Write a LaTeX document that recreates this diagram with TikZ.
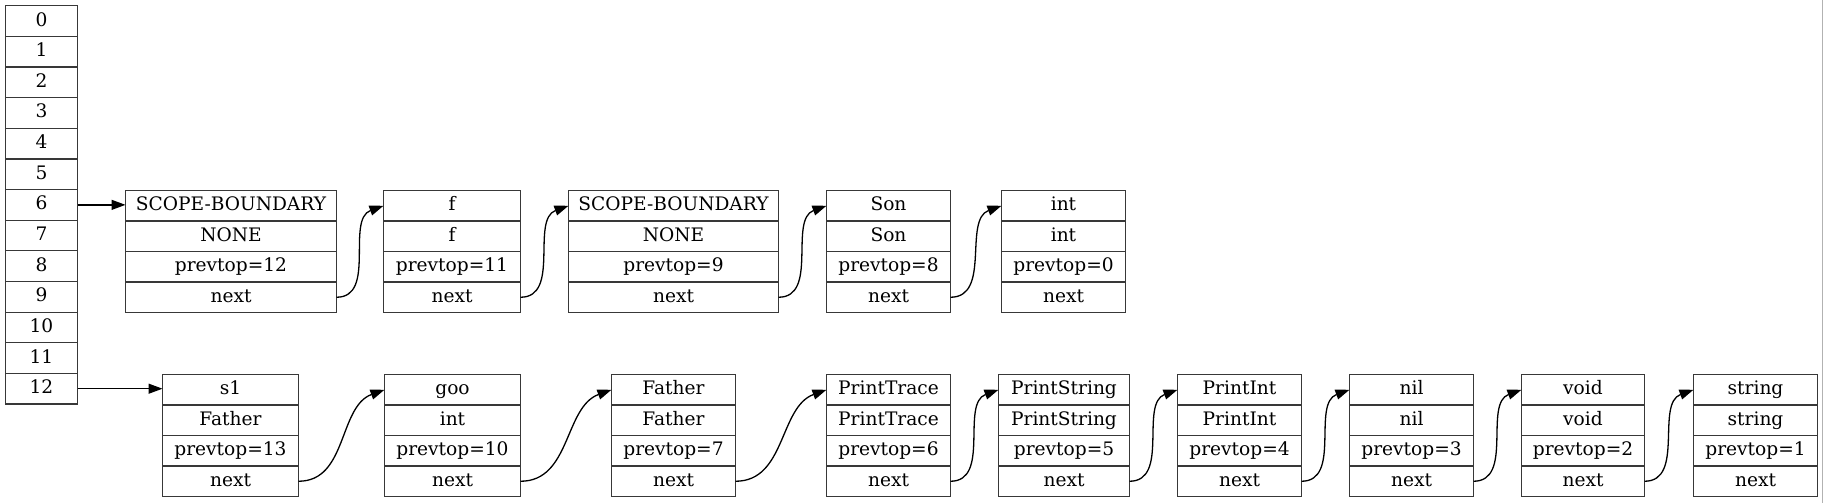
\documentclass[tikz,border=0pt]{standalone}
\usepackage{fontspec}
\setmainfont{DejaVu Serif}
\usetikzlibrary{arrows.meta}
\tikzset{
  fld/.style={draw=black!78, line width=1.2pt, inner sep=0pt, outer sep=0pt, minimum height=30.5pt,
    text height=14pt, text depth=4pt, font=\fontsize{18.6}{22}\selectfont},
  arr/.style={draw=black, line width=1.3pt, -{Triangle[length=14pt,width=10pt]}},
}
\newcommand\myrec[8]{%
  \node[fld, minimum width=#4pt, anchor=north west] (#1-1) at (#2,#3) {#5};
  \node[fld, minimum width=#4pt, anchor=north] (#1-2) at (#1-1.south) {#6};
  \node[fld, minimum width=#4pt, anchor=north] (#1-3) at (#1-2.south) {#7};
  \node[fld, minimum width=#4pt, anchor=north] (#1-4) at (#1-3.south) {#8};
}
\begin{document}
\begin{tikzpicture}[x=1pt,y=-1pt]
\useasboundingbox (0,0) rectangle (1823,503);
\draw[black!30, line width=1pt] (1822.5,0) -- (1822.5,503);
% array
\foreach \i in {0,...,12} {
  \node[fld, minimum width=72pt, minimum height=30.64pt, anchor=north west] (a\i) at (5.5,5.7+30.64*\i) {\i};
}
% top row
\myrec{t1}{125.5}{190.5}{211}{SCOPE-BOUNDARY}{NONE}{prevtop=12}{next}
\myrec{t2}{383.5}{190.5}{137}{f}{f}{prevtop=11}{next}
\myrec{t3}{568.5}{190.5}{210}{SCOPE-BOUNDARY}{NONE}{prevtop=9}{next}
\myrec{t4}{826.5}{190.5}{124}{Son}{Son}{prevtop=8}{next}
\myrec{t5}{1001.5}{190.5}{124}{int}{int}{prevtop=0}{next}
% bottom row
\myrec{b1}{162.5}{374.5}{136}{s1}{Father}{prevtop=13}{next}
\myrec{b2}{384.5}{374.5}{136}{goo}{int}{prevtop=10}{next}
\myrec{b3}{611.5}{374.5}{124}{Father}{Father}{prevtop=7}{next}
\myrec{b4}{826.5}{374.5}{124}{PrintTrace}{PrintTrace}{prevtop=6}{next}
\myrec{b5}{998.5}{374.5}{131}{PrintString}{PrintString}{prevtop=5}{next}
\myrec{b6}{1177.5}{374.5}{124}{PrintInt}{PrintInt}{prevtop=4}{next}
\myrec{b7}{1349.5}{374.5}{124}{nil}{nil}{prevtop=3}{next}
\myrec{b8}{1521.5}{374.5}{123}{void}{void}{prevtop=2}{next}
\myrec{b9}{1693.5}{374.5}{124}{string}{string}{prevtop=1}{next}
% connectors
\draw[arr] (a6.east) -- (a6.east -| t1-1.west);
\draw[arr] (a12.east) -- (a12.east -| b1-1.west);
\foreach \p/\q in {t1/t2,t2/t3,t3/t4,t4/t5,b1/b2,b2/b3,b3/b4,b4/b5,b5/b6,b6/b7,b7/b8,b8/b9} {
  \draw[arr] (\p-4.east) to[out=0,in=200] (\q-1.west);
}
\end{tikzpicture}
\end{document}
